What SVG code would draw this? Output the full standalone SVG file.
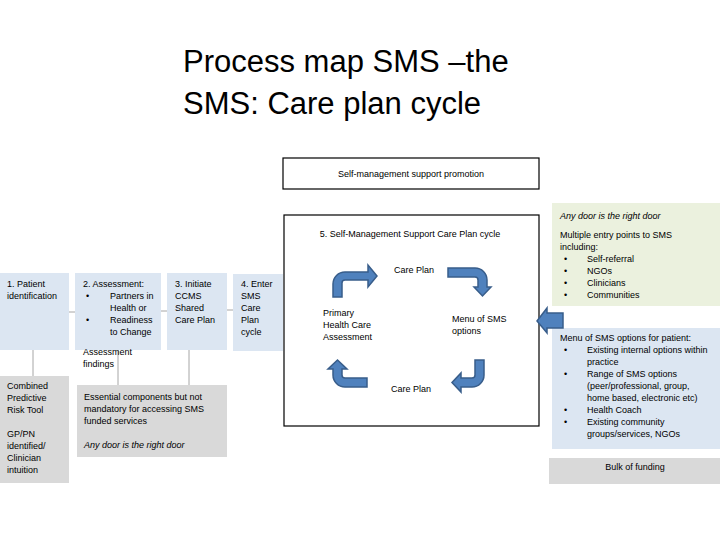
<svg xmlns="http://www.w3.org/2000/svg" width="720" height="540" viewBox="0 0 720 540">
<style>
text{font-family:"Liberation Sans",Arial,sans-serif;font-size:9px;fill:#000}
.title{font-size:31px}
.it{font-style:italic}
.blue{fill:#dce6f2}
.gray{fill:#d9d9d9}
.green{fill:#ebf1de}
.frame{fill:#fff;stroke:#000;stroke-width:1.2}
.conn{stroke:#a6a6a6;stroke-width:1;fill:none}
.arr{fill:#4f81bd;stroke:#385d8a;stroke-width:1.5;stroke-linejoin:miter}
.c{text-anchor:middle}
</style>
<rect width="720" height="540" fill="#fff"/>

<g id="title">
<text class="title" x="183" y="72">Process map SMS –the</text>
<text class="title" x="183" y="114">SMS: Care plan cycle</text>
</g>

<g id="connectors">
<line class="conn" x1="69" y1="312" x2="75" y2="312"/>
<line class="conn" x1="161" y1="311" x2="167" y2="311"/>
<line class="conn" x1="227" y1="310" x2="233" y2="310"/>
<line class="conn" x1="33" y1="350" x2="33" y2="376"/>
<line class="conn" x1="118" y1="350" x2="118" y2="385"/>
<line class="conn" x1="189" y1="350" x2="189" y2="385"/>
</g>

<g id="promotion">
<rect class="frame" x="283" y="158" width="256" height="31"/>
<text class="c" x="411" y="177">Self-management support promotion</text>
</g>

<g id="n1">
<rect class="blue" x="0" y="273" width="69" height="77"/>
<text x="7" y="287">1. Patient</text>
<text x="7" y="299">identification</text>
</g>

<g id="n2">
<rect class="blue" x="75" y="273" width="86" height="77"/>
<text x="83" y="287">2. Assessment:</text>
<text x="86" y="299">•</text>
<text x="110" y="299">Partners in</text>
<text x="110" y="311">Health or</text>
<text x="86" y="323">•</text>
<text x="110" y="323">Readiness</text>
<text x="110" y="335">to Change</text>
</g>

<g id="n3">
<rect class="blue" x="167" y="273" width="60" height="77"/>
<text x="175" y="287">3. Initiate</text>
<text x="175" y="299">CCMS</text>
<text x="175" y="311">Shared</text>
<text x="175" y="323">Care Plan</text>
</g>

<g id="n4">
<rect class="blue" x="233" y="274" width="50" height="77"/>
<text x="241" y="287">4. Enter</text>
<text x="241" y="299">SMS</text>
<text x="241" y="311">Care</text>
<text x="241" y="323">Plan</text>
<text x="241" y="335">cycle</text>
</g>

<g id="findings">
<text x="83" y="355">Assessment</text>
<text x="83" y="367">findings</text>
</g>

<g id="g1">
<rect class="gray" x="0" y="376" width="69" height="107"/>
<text x="7" y="389">Combined</text>
<text x="7" y="401">Predictive</text>
<text x="7" y="413">Risk Tool</text>
<text x="7" y="437">GP/PN</text>
<text x="7" y="449">identified/</text>
<text x="7" y="461">Clinician</text>
<text x="7" y="473">intuition</text>
</g>

<g id="g2">
<rect class="gray" x="77" y="385" width="150" height="72"/>
<text x="84" y="400">Essential components but not</text>
<text x="84" y="412">mandatory for accessing SMS</text>
<text x="84" y="424">funded services</text>
<text class="it" x="84" y="448">Any door is the right door</text>
</g>

<g id="n5">
<rect class="frame" x="284" y="215" width="255" height="211"/>
<text class="c" x="410" y="237">5. Self-Management Support Care Plan cycle</text>
<text x="394" y="273">Care Plan</text>
<text x="323" y="316">Primary</text>
<text x="323" y="328">Health Care</text>
<text x="323" y="340">Assessment</text>
<text x="452" y="322">Menu of SMS</text>
<text x="452" y="334">options</text>
<text x="391" y="392">Care Plan</text>
<path class="arr" d="M333 297 L333 284 A12 12 0 0 1 345 272 L368 272 L368 265 L377 276 L368 287 L368 280 L345 280 A3 3 0 0 0 342 283 L342 297 Z"/>
<path class="arr" d="M448 268 L475 268 A12 12 0 0 1 487 280 L487 287 L491 287 L482.5 296 L474 287 L478 287 L478 280 A3 3 0 0 0 475 277 L448 277 Z"/>
<path class="arr" d="M475 360 L484 360 L484 375 A12 12 0 0 1 472 387 L461 387 L461 392 L452 382.5 L461 373 L461 378 L472 378 A3 3 0 0 0 475 375 Z"/>
<path class="arr" d="M367 387 L345 387 A12 12 0 0 1 333 375 L333 369 L328 369 L337.5 360 L347 369 L342 369 L342 375 A3 3 0 0 0 345 378 L367 378 Z"/>
</g>

<g id="entry">
<rect class="green" x="552" y="203" width="168" height="103"/>
<text class="it" x="560" y="219">Any door is the right door</text>
<text x="560" y="238">Multiple entry points to SMS</text>
<text x="560" y="250">including:</text>
<text x="564" y="262">•</text><text x="587" y="262">Self-referral</text>
<text x="564" y="274">•</text><text x="587" y="274">NGOs</text>
<text x="564" y="286">•</text><text x="587" y="286">Clinicians</text>
<text x="564" y="298">•</text><text x="587" y="298">Communities</text>
</g>

<g id="menu">
<rect class="blue" x="552" y="328" width="168" height="121"/>
<text x="560" y="341">Menu of SMS options for patient:</text>
<text x="564" y="353">•</text><text x="587" y="353">Existing internal options within</text>
<text x="587" y="365">practice</text>
<text x="564" y="377">•</text><text x="587" y="377">Range of SMS options</text>
<text x="587" y="389">(peer/professional, group,</text>
<text x="587" y="401">home based, electronic etc)</text>
<text x="564" y="413">•</text><text x="587" y="413">Health Coach</text>
<text x="564" y="425">•</text><text x="587" y="425">Existing community</text>
<text x="587" y="437">groups/services, NGOs</text>
</g>

<g id="funding">
<rect class="gray" x="549" y="458" width="171" height="26"/>
<text class="c" x="635" y="470">Bulk of funding</text>
</g>

<g id="entry-arrow">
<path class="arr" d="M537 321 L547 308 L547 313 L563 313 L563 328 L547 328 L547 333 Z"/>
</g>
</svg>
